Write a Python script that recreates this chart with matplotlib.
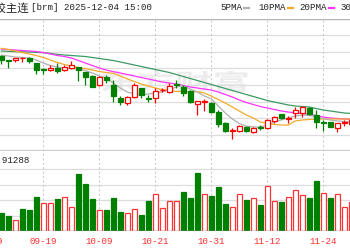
import matplotlib
matplotlib.use("Agg")
import numpy as np
import matplotlib.pyplot as plt
from matplotlib.lines import Line2D
from matplotlib.textpath import TextPath
from matplotlib.patches import PathPatch
from matplotlib.font_manager import FontProperties
from matplotlib.transforms import Affine2D

# ---------------- data ----------------
dates = ["09-11", "09-12", "09-15", "09-16", "09-17", "09-18", "09-19", "09-22", "09-23", "09-24",
         "09-25", "09-26", "09-29", "09-30", "10-09", "10-10", "10-13", "10-14", "10-15", "10-16",
         "10-17", "10-20", "10-21", "10-22", "10-23", "10-24", "10-27", "10-28", "10-29", "10-30",
         "10-31", "11-03", "11-04", "11-05", "11-06", "11-07", "11-10", "11-11", "11-12", "11-13",
         "11-14", "11-17", "11-18", "11-19", "11-20", "11-21", "11-24", "11-25", "11-26", "11-27",
         "11-28"]

opens = [11748, 11704, 11700, 11720, 11728, 11664, 11588, 11580, 11600, 11576,
         11604, 11616, 11560, 11508, 11400, 11500, 11400, 11240, 11188, 11260,
         11360, 11248, 11240, 11336, 11320, 11412, 11380, 11328, 11172, 11200,
         11180, 11080, 10948, 10848, 10852, 10892, 10840, 10900, 10880, 10968,
         11046, 10996, 11060, 11068, 11120, 11040, 10956, 10952, 10880, 10944,
         10932]
highs = [11760, 11706, 11728, 11740, 11740, 11664, 11608, 11640, 11660, 11640,
         11692, 11616, 11560, 11520, 11508, 11520, 11460, 11268, 11268, 11428,
         11364, 11280, 11368, 11360, 11428, 11460, 11400, 11340, 11208, 11232,
         11196, 11100, 10960, 10890, 10920, 10908, 10896, 10920, 10992, 11028,
         11056, 11032, 11140, 11148, 11140, 11100, 10980, 10962, 10944, 10980,
         10992]
lows = [11652, 11604, 11676, 11680, 11664, 11532, 11528, 11568, 11540, 11568,
        11592, 11448, 11400, 11376, 11388, 11420, 11196, 11160, 11160, 11240,
        11240, 11200, 11188, 11320, 11308, 11364, 11268, 11184, 11040, 11088,
        11070, 10900, 10836, 10758, 10836, 10842, 10828, 10856, 10868, 10948,
        10996, 10944, 11004, 11016, 11040, 10880, 10848, 10896, 10836, 10908,
        10896]
closes = [11700, 11692, 11728, 11728, 11688, 11580, 11576, 11608, 11568, 11616,
          11640, 11576, 11500, 11380, 11500, 11460, 11268, 11192, 11252, 11400,
          11280, 11236, 11332, 11344, 11388, 11400, 11300, 11200, 11204, 11206,
          11080, 10932, 10848, 10856, 10908, 10852, 10888, 10888, 10974, 11010,
          11000, 11004, 11100, 11140, 11046, 10960, 10940, 10900, 10940, 10956,
          10980]
volumes = [37000, 31000, 22000, 44000, 43000, 69000, 57000, 57000, 65000, 68000,
           49000, 114000, 95000, 65000, 43000, 42000, 67000, 38000, 36000, 45000,
           33000, 60000, 74000, 47000, 60000, 60000, 78000, 67000, 116000, 74000,
           71000, 89000, 55000, 49000, 75000, 63000, 67000, 52000, 91000, 60000,
           58000, 69000, 83000, 72000, 67000, 100000, 77000, 67000, 75000, 49000,
           59000]
vol_up = [0, 0, 1, 0, 0, 0, 1, 1, 0, 1,
          1, 0, 0, 0, 1, 0, 0, 0, 1, 1,
          0, 0, 1, 1, 1, 1, 0, 0, 0, 1,
          0, 0, 0, 1, 1, 0, 1, 0, 1, 1,
          0, 1, 1, 1, 0, 0, 1, 0, 1, 1,
          1]
ma5 = [11760, 11748, 11736, 11730, 11724, 11700, 11664, 11634, 11616, 11604,
       11598, 11592, 11574, 11544, 11508, 11484, 11424, 11364, 11316, 11292,
       11280, 11292, 11304, 11316, 11340, 11376, 11388, 11352, 11316, 11268,
       11232, 11148, 11064, 10992, 10938, 10908, 10896, 10896, 10920, 10956,
       10980, 11004, 11028, 11040, 11034, 11016, 10998, 10980, 10968, 10962,
       10956]
ma10 = [11840, 11826, 11808, 11790, 11772, 11754, 11730, 11700, 11670, 11646,
        11628, 11610, 11598, 11580, 11562, 11550, 11540, 11508, 11472, 11442,
        11412, 11388, 11364, 11346, 11334, 11322, 11320, 11320, 11320, 11304,
        11268, 11226, 11184, 11136, 11088, 11040, 11004, 10956, 10938, 10926,
        10920, 10920, 10968, 10980, 10986, 10992, 10992, 10992, 10992, 10992,
        10992]
ma20 = [11832, 11826, 11820, 11814, 11808, 11802, 11790, 11772, 11754, 11742,
        11724, 11694, 11664, 11634, 11604, 11580, 11560, 11544, 11526, 11508,
        11490, 11472, 11454, 11436, 11424, 11412, 11394, 11376, 11364, 11352,
        11340, 11316, 11286, 11256, 11220, 11190, 11166, 11142, 11124, 11106,
        11088, 11076, 11064, 11058, 11048, 11034, 11016, 11004, 10998, 10992,
        10986]
ma30 = [11808, 11804, 11801, 11798, 11796, 11792, 11788, 11778, 11768, 11760,
        11754, 11748, 11742, 11730, 11718, 11706, 11694, 11676, 11658, 11640,
        11622, 11604, 11586, 11568, 11550, 11526, 11502, 11478, 11454, 11430,
        11406, 11382, 11358, 11334, 11310, 11286, 11262, 11238, 11214, 11196,
        11178, 11160, 11148, 11142, 11136, 11118, 11100, 11088, 11076, 11064,
        11058]

tick_labels = ["09-09", "09-19", "10-09", "10-21", "10-31", "11-12", "11-24"]
tick_pos = [-2, 6, 14, 22, 30, 38, 46]

title_cn = "丁二烯橡胶主连"
title_rest = "[brm] 2025-12-04 15:00"
legend_names = ["5PMA", "10PMA", "20PMA", "30PMA"]
vol_label = "成交量:91288"
watermark = "东方财富"

# ---------------- layout ----------------
W, H, DPI = 350, 250, 100
fig = plt.figure(figsize=(W / DPI, H / DPI), dpi=DPI)
fig.patch.set_facecolor("white")


def fx(px):
    return px / W


def fy(py):
    return 1 - py / H


X0, STEP, FIRST = 43.3, 7.0, 6   # pixel of "09-19", pixels per bar, index of 09-19
xlim = (FIRST - X0 / STEP, FIRST + (W - X0) / STEP)

P_TOP, P_BOT = 18.5, 151
V_TOP, V_BOT = 151, 231
ax = fig.add_axes([0, fy(P_BOT), 1, (P_BOT - P_TOP) / H])
axv = fig.add_axes([0, fy(V_BOT), 1, (V_BOT - V_TOP) / H])
for a in (ax, axv):
    a.set_xlim(*xlim)
    a.axis("off")
    a.patch.set_alpha(0)

ax.set_ylim(10608, 12198)
axv.set_ylim(0, 160000)

# watermark
wm = TextPath((0, 0), watermark, size=30, prop=FontProperties(family="Noto Sans CJK SC", weight="bold"))
wm_tr = Affine2D().scale(1.25, 0.75).translate(fx(100) * W, (1 - 90 / H) * H)
fig.add_artist(PathPatch(wm, transform=wm_tr, facecolor="#ececec", edgecolor="none", zorder=0))

# horizontal grid
grid_c = "#dddddd"
for p in [12000, 11800, 11600, 11400, 11200, 11000, 10800]:
    ax.axhline(p, color=grid_c, lw=0.9, zorder=1)
ax.axhline(12192, color="#b4b4b4", lw=1.0, zorder=1)
ax.axhline(10620, color="#cfcfcf", lw=1.0, zorder=1)
for v in [31000, 62000, 93000, 124000]:
    axv.axhline(v, color=grid_c, lw=0.9, zorder=1)
axv.axhline(0, color="#999999", lw=1.0, zorder=5)

# vertical dashed grid across both panels
for tp in tick_pos:
    for a in (ax, axv):
        a.axvline(tp, color="#cccccc", lw=0.8, ls=(0, (2, 2)), zorder=1)

# ---------------- candles ----------------
n = len(dates)
xs = np.arange(n)
RED, GREEN = "#ff0000", "#008000"
o = np.array(opens); c = np.array(closes); hi = np.array(highs); lo = np.array(lows)
up = c >= o
ax.vlines(xs, lo, hi, colors=[RED if u else GREEN for u in up], lw=0.9, zorder=3)
bottoms = np.minimum(o, c)
heights = np.maximum(np.abs(c - o), 2)
ax.bar(xs, heights, bottom=bottoms, width=0.68,
       facecolor=["white" if u else GREEN for u in up],
       edgecolor=[RED if u else GREEN for u in up], lw=0.9, zorder=4)

# moving averages
ax.plot(xs, ma30, color="#3c9a64", lw=0.9, zorder=2)
ax.plot(xs, ma20, color="#ff33ff", lw=0.9, zorder=2)
ax.plot(xs, ma10, color="#f5aa28", lw=0.9, zorder=2)
ax.plot(xs, ma5, color="#b0b0b0", lw=0.9, zorder=2)

# ---------------- volume ----------------
axv.bar(xs, volumes, width=0.68,
        facecolor=["white" if u else GREEN for u in vol_up],
        edgecolor=["#ff3333" if u else GREEN for u in vol_up], lw=0.9, zorder=3)

# ---------------- texts ----------------
mono = "Liberation Mono"
cjk = "Noto Sans CJK SC"
fig.text(fx(29.5), fy(7.8), title_cn, ha="right", va="center", fontsize=8.2,
         family=[cjk, "DejaVu Sans"], color="#222222")
fig.text(fx(31), fy(7.8), title_rest, ha="left", va="center", fontsize=6.6,
         family=[mono, "DejaVu Sans"], color="#222222")

leg_x = [220, 258, 299, 340]
leg_col = ["#b0b0b0", "#f5aa28", "#ff33ff", "#3c9a64"]
for name, lx, col in zip(legend_names, leg_x, leg_col):
    fig.text(fx(lx), fy(7.8), name, ha="left", va="center", fontsize=6.6,
             family=[mono, "DejaVu Sans"], color="#222222")
    sx = lx + len(name) * 5.4 + 2.5
    fig.add_artist(Line2D([fx(sx), fx(sx + 5)], [fy(7.8), fy(7.8)], color=col, lw=1.6))

fig.text(fx(30), fy(160), vol_label, ha="right", va="center", fontsize=6.6,
         family=[mono, cjk, "DejaVu Sans"], color="#222222")

for lab, tp in zip(tick_labels, tick_pos):
    px = X0 + (tp - FIRST) * STEP
    fig.text(fx(px + 1.5 if tp < 0 else px), fy(241), lab, ha="center", va="center", fontsize=6.6,
             family=[mono, "DejaVu Sans"], color="#ff3030")

fig.savefig("out.png", dpi=DPI, facecolor="white")
